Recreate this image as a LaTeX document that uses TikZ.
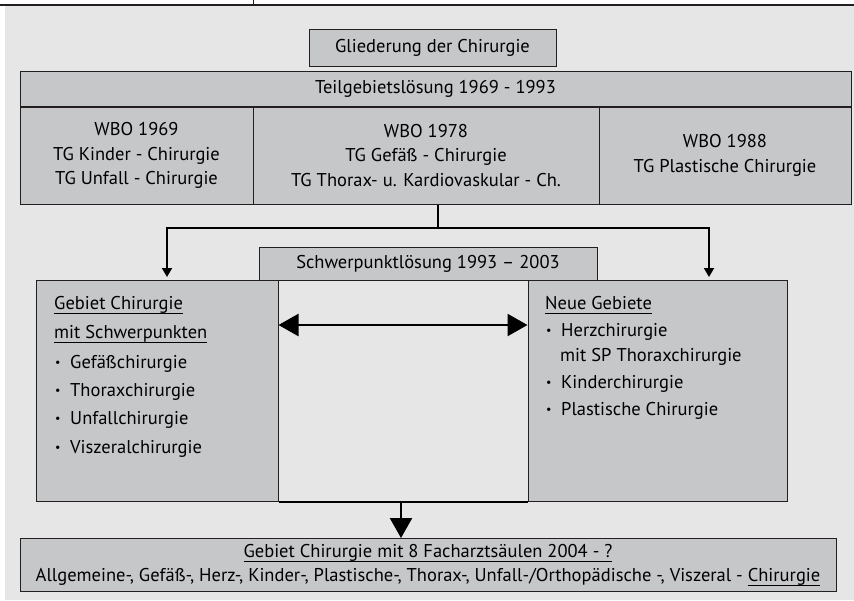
\documentclass[tikz,border=0pt]{standalone}
\usepackage{fontspec}
\setmainfont{PT Sans}
\usetikzlibrary{arrows.meta}
\definecolor{bggray}{HTML}{E6E6E6}
\definecolor{boxgray}{HTML}{C6C7C9}
\definecolor{edge}{HTML}{231F20}
\newcommand{\bul}{\makebox[15pt][l]{\raisebox{1.2pt}{\fontsize{12}{12}\selectfont •}}}
\newcommand{\ulx}[1]{\setbox0\hbox{#1}\rlap{\rule[-4.5pt]{\wd0}{0.9pt}}\box0}
\begin{document}
\begin{tikzpicture}[x=1pt,y=-1pt,
  box/.style={draw=edge, fill=boxgray, line width=1pt, inner sep=0pt,
    font=\fontsize{18.5}{24.5}\selectfont, align=center},
  txt/.style={font=\fontsize{18.5}{24.5}\selectfont, text=black, inner sep=0pt},
  arr/.style={line width=1.8pt, -{Triangle[length=9pt,width=10pt]}, shorten >=3pt},
  bigarr/.style={line width=2.4pt, -{Triangle[length=20pt,width=22pt]}},
]
\useasboundingbox (0,0) rectangle (854,600);
\fill[bggray] (5,6) rectangle (854,600);
\draw[line width=1.5pt, edge] (0,5) -- (854,5);
\draw[line width=1pt, edge] (253,0) -- (253,5);

% top
\node[box, minimum width=247pt, minimum height=37pt] (glied) at (432.5,48) {Gliederung der Chirurgie};
\node[box, minimum width=831pt, minimum height=35pt] (head) at (435.5,89) {Teilgebietslösung 1969 - 1993};
\node[box, minimum width=233pt, minimum height=97pt] (cellA) at (136.5,155.5)
  {WBO 1969\\TG Kinder - Chirurgie\\TG Unfall - Chirurgie};
\node[box, minimum width=346pt, minimum height=97pt] (cellB) at (426,155.5)
  {WBO 1978\\TG Gefäß - Chirurgie\\TG Thorax- u. Kardiovaskular - Ch.};
\node[box, minimum width=252pt, minimum height=97pt] (cellC) at (725,155.5)
  {WBO 1988\\TG Plastische Chirurgie};

% middle boxes
\node[box, minimum width=242pt, minimum height=221pt] (lbox) at (157,390.5) {};
\node[box, minimum width=259pt, minimum height=221pt] (rbox) at (657.5,390.5) {};
\node[box, minimum width=338pt, minimum height=33pt] (schwer) at (428,263.5) {Schwerpunktlösung 1993 – 2003};

\node[txt, anchor=base west] (l1) at (54,309) {\ulx{Gebiet Chirurgie}};
\node[txt, anchor=base west] (l2) at (54,338) {\ulx{mit Schwerpunkten}};
\node[txt, anchor=base west] (l3) at (55,368) {\bul Gefäßchirurgie};
\node[txt, anchor=base west] (l4) at (55,396) {\bul Thoraxchirurgie};
\node[txt, anchor=base west] (l5) at (55,424) {\bul Unfallchirurgie};
\node[txt, anchor=base west] (l6) at (55,453) {\bul Viszeralchirurgie};

\node[txt, anchor=base west] (r1) at (545,309) {\ulx{Neue Gebiete}};
\node[txt, anchor=base west] (r2) at (546,336) {\bul Herzchirurgie};
\node[txt, anchor=base west] (r3) at (560,361) {mit SP Thoraxchirurgie};
\node[txt, anchor=base west] (r4) at (546,388) {\bul Kinderchirurgie};
\node[txt, anchor=base west] (r5) at (546,415) {\bul Plastische Chirurgie};

% bottom
\node[box, minimum width=816pt, minimum height=53pt] (bot) at (428,565)
  {\ulx{Gebiet Chirurgie mit 8 Facharztsäulen 2004 - ?}\\[0pt]
   Allgemeine-, Gefäß-, Herz-, Kinder-, Plastische-, Thorax-, Unfall-/Orthopädische -, Viszeral - \ulx{Chirurgie}};

% connectors
\coordinate (j) at (438,228);
\coordinate (la) at (167,280);
\coordinate (ra) at (709,280);
\draw[line width=1.8pt] (cellB.south -| j) -- (j);
\draw[arr] (j) -| (la);
\draw[arr] (j) -| (ra);

\coordinate (da) at (400,325);
\draw[line width=2.4pt, {Triangle[length=20pt,width=22pt]}-{Triangle[length=20pt,width=22pt]}]
  (lbox.east |- da) -- (rbox.west |- da);

\draw[line width=2pt] (lbox.south east) -- (rbox.south west);
\coordinate (dm) at (401,501);
\draw[bigarr] (dm) -- (bot.north -| dm);
\end{tikzpicture}
\end{document}
